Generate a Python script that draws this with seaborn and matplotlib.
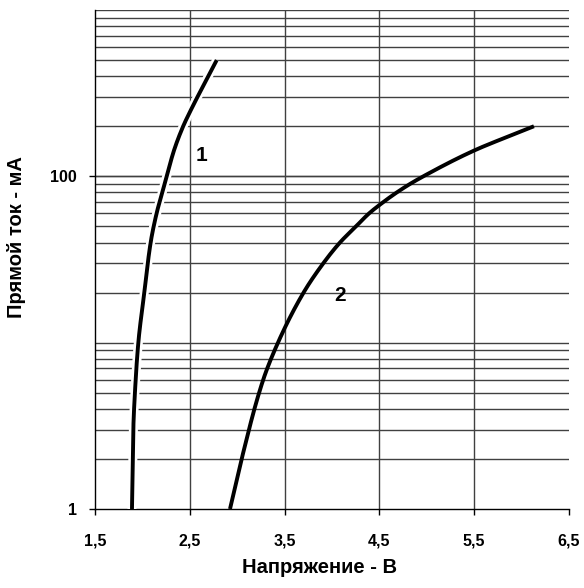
import numpy as np
import pandas as pd
import seaborn as sns
import matplotlib
matplotlib.use("Agg")
import matplotlib.pyplot as plt
import matplotlib.patheffects as pe
from matplotlib.ticker import FixedLocator, NullFormatter

# Data (voltage in V, forward current in mA)
v1 = [1.89, 1.904, 1.929, 1.957, 2.02, 2.087, 2.15, 2.215, 2.256, 2.333, 2.43, 2.50, 2.784]
i1 = [1, 3, 6, 10, 20, 40, 60, 82, 100, 143, 200, 243, 500]
v2 = [2.924, 3.047, 3.275, 3.43, 3.70, 3.908, 4.084, 4.253, 4.393, 4.541, 4.683, 4.823, 4.963, 5.50, 5.84, 6.13]
i2 = [1, 2, 6, 10, 20, 30, 40, 50, 60, 70, 80, 90, 100, 143, 172, 200]
x_ticks = [1.5, 2.5, 3.5, 4.5, 5.5, 6.5]
x_ticklabels = ["1,5", "2,5", "3,5", "4,5", "5,5", "6,5"]
y_ticks = [1, 100]
y_ticklabels = ["1", "100"]
curve_labels = ["1", "2"]
label_pos_v = [2.625, 4.08]
label_pos_i = [133, 19.2]


def pchip(xk, yk, xq):
    xk = np.asarray(xk, float); yk = np.asarray(yk, float)
    h = np.diff(xk); d = np.diff(yk) / h
    n = len(xk); m = np.zeros(n)
    for k in range(1, n - 1):
        if d[k - 1] * d[k] > 0:
            w1 = 2 * h[k] + h[k - 1]; w2 = h[k] + 2 * h[k - 1]
            m[k] = (w1 + w2) / (w1 / d[k - 1] + w2 / d[k])
    m[0] = d[0]; m[-1] = d[-1]
    idx = np.clip(np.searchsorted(xk, xq) - 1, 0, n - 2)
    t = (xq - xk[idx]) / h[idx]
    h00 = 2*t**3 - 3*t**2 + 1; h10 = t**3 - 2*t**2 + t
    h01 = -2*t**3 + 3*t**2; h11 = t**3 - t**2
    return h00*yk[idx] + h10*h[idx]*m[idx] + h01*yk[idx+1] + h11*h[idx]*m[idx+1]


sns.set_theme(style="white")
plt.rcParams['font.family'] = ['Liberation Sans', 'DejaVu Sans']
plt.rcParams['text.color'] = 'black'
plt.rcParams['axes.labelcolor'] = 'black'

fig = plt.figure(figsize=(5.84, 5.88), dpi=100)
ax = fig.add_axes([95/584, 1 - 509/588, (569-95)/584, (509-10)/588])
ax.set_yscale("log")

rows = []
for name, vv, ii in [("1", v1, i1), ("2", v2, i2)]:
    ly = np.log10(ii)
    t = np.linspace(ly[0], ly[-1], 300)
    rows.append(pd.DataFrame({"V": pchip(ly, vv, t), "I": 10**t, "curve": name}))
dfs = pd.concat(rows, ignore_index=True)

sns.lineplot(data=dfs, x="V", y="I", units="curve", estimator=None, sort=False,
             color="black", lw=2.8, ax=ax, zorder=5, solid_capstyle="butt")
# curve 1 has a white halo in the reference
ax.lines[0].set_path_effects([pe.Stroke(linewidth=6.5, foreground="white"), pe.Normal()])

ax.set_xlim(1.5, 6.5)
ax.set_ylim(1, 1000)

minors = [m * 10**d for d in range(0, 3) for m in range(2, 11)]
ax.yaxis.set_major_locator(FixedLocator(y_ticks))
ax.set_yticklabels(y_ticklabels)
ax.yaxis.set_minor_locator(FixedLocator(minors))
ax.yaxis.set_minor_formatter(NullFormatter())
ax.set_xticks(x_ticks)
ax.set_xticklabels(x_ticklabels)

ax.grid(False)
for y in minors:
    ax.axhline(y, color="#404040", lw=1.0, zorder=1)
for x in x_ticks[1:-1]:
    ax.axvline(x, color="#404040", lw=1.0, zorder=1)
ax.axhline(100, color="#404040", lw=1.0, zorder=1)

for s in ["top", "right"]:
    ax.spines[s].set_visible(False)
for s in ["left", "bottom"]:
    ax.spines[s].set_color("black")
    ax.spines[s].set_linewidth(1.0)

ax.tick_params(axis="both", which="major", direction="out", length=4, width=1,
               color="black", labelsize=11.5, labelcolor="black", bottom=True, left=True)
ax.tick_params(axis="y", which="minor", length=0, left=False)
ax.tick_params(axis="x", pad=14)
ax.tick_params(axis="y", pad=9)
for lab in ax.get_xticklabels() + ax.get_yticklabels():
    lab.set_fontweight("bold")

ax.set_xlabel("Напряжение - В", fontsize=14.5, fontweight="bold", color="black")
ax.set_ylabel("Прямой ток - мА", fontsize=14.5, fontweight="bold", color="black")
ax.xaxis.set_label_coords(0.4726, -0.098)
ax.yaxis.set_label_coords(-0.145, 0.544)

for t, xv, yv in zip(curve_labels, label_pos_v, label_pos_i):
    ax.text(xv, yv, t, fontsize=15, fontweight="bold", ha="center", va="center",
            color="black", zorder=6)

fig.savefig("out.png", dpi=100)
